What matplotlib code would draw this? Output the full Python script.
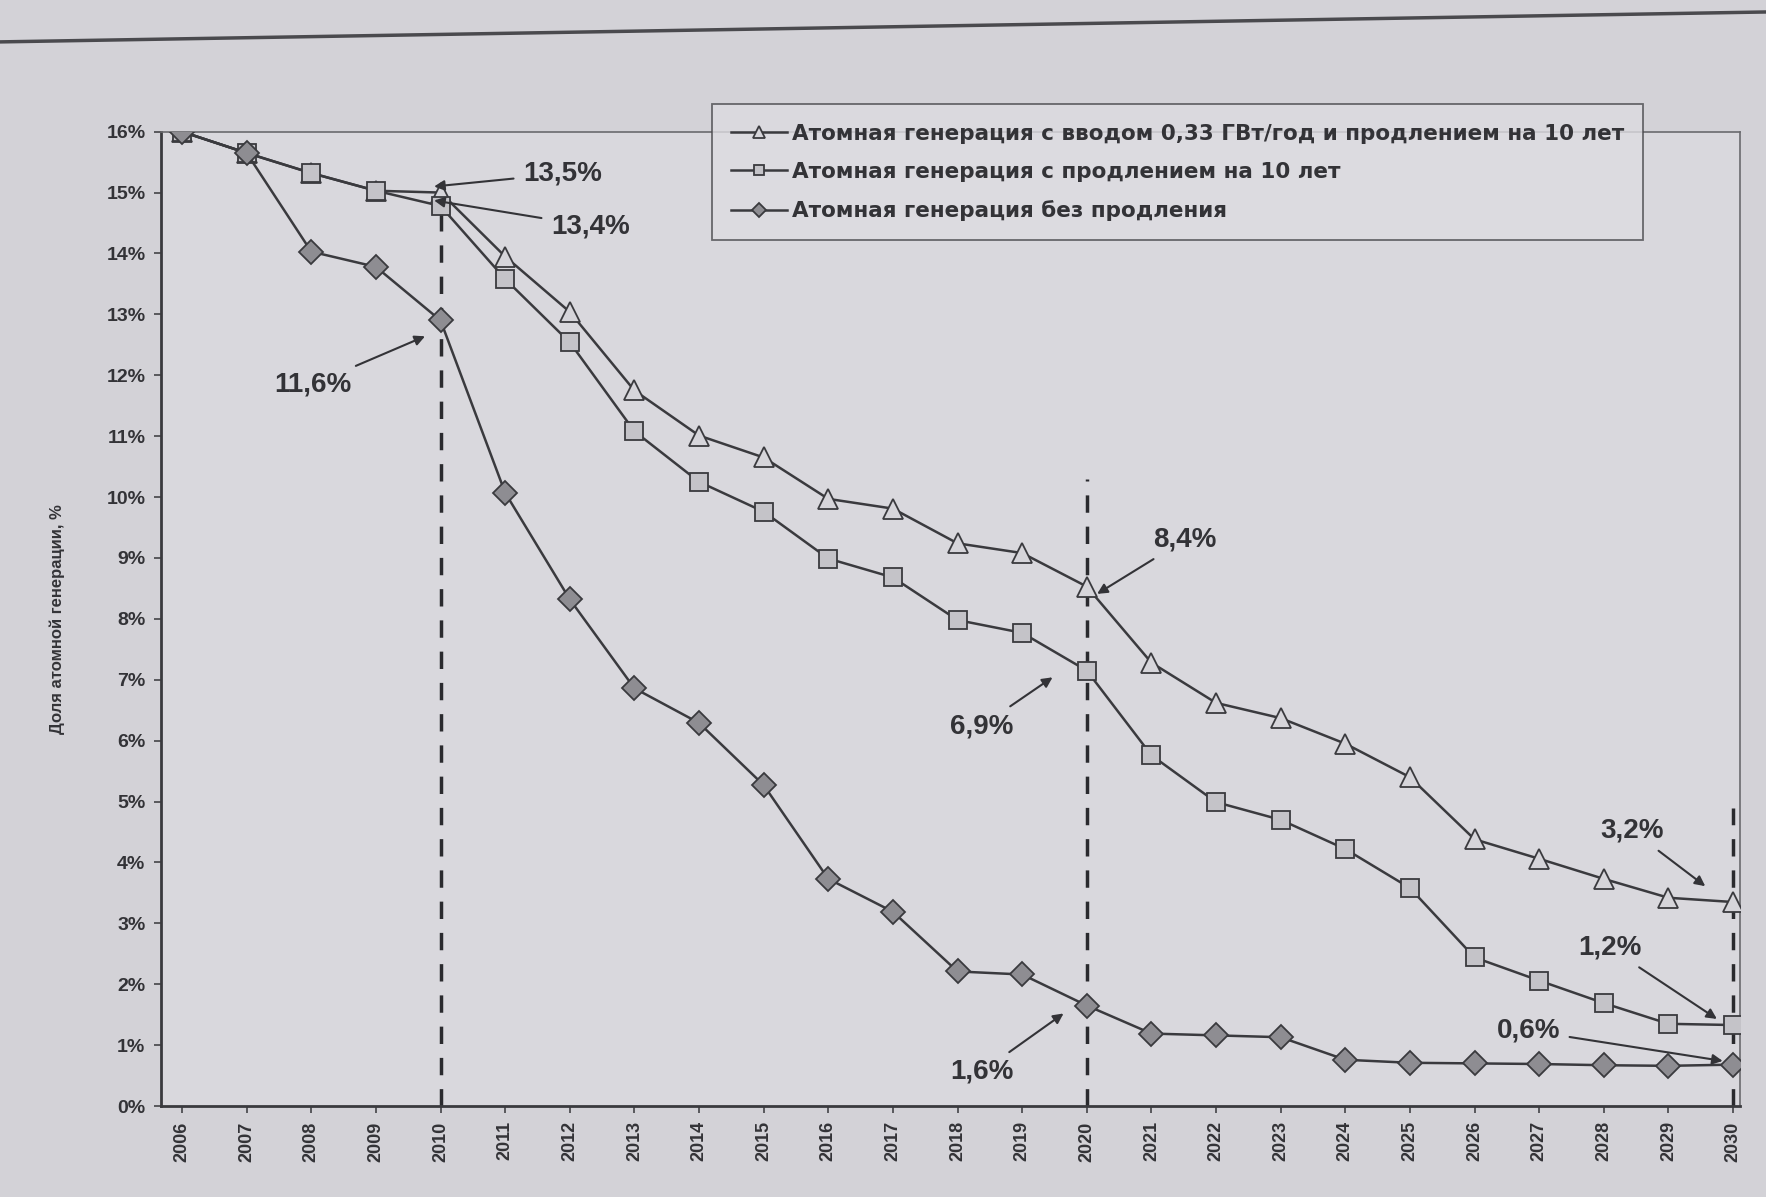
import numpy as np
import matplotlib
matplotlib.use("Agg")
import matplotlib.pyplot as plt
from matplotlib.lines import Line2D

plt.rcParams['font.family'] = ['Liberation Sans', 'DejaVu Sans']

years = list(range(2006, 2031))

# share of nuclear generation, %
with_input = [16.0, 15.65, 15.32, 15.03, 15.0, 13.95, 13.04, 11.75, 11.01, 10.65,
              9.97, 9.81, 9.24, 9.08, 8.53, 7.28, 6.62, 6.37, 5.95, 5.40,
              4.38, 4.06, 3.73, 3.42, 3.35]
with_ext = [16.0, 15.65, 15.32, 15.03, 14.78, 13.58, 12.54, 11.08, 10.25, 9.76,
            8.99, 8.68, 7.98, 7.77, 7.15, 5.76, 4.99, 4.70, 4.22, 3.58,
            2.44, 2.06, 1.69, 1.35, 1.33]
no_ext = [16.0, 15.65, 14.03, 13.78, 12.9, 10.07, 8.32, 6.86, 6.29, 5.27,
          3.73, 3.19, 2.21, 2.16, 1.65, 1.19, 1.16, 1.13, 0.76, 0.71,
          0.70, 0.69, 0.67, 0.66, 0.68]

series_labels = ["Атомная генерация с вводом 0,33 ГВт/год и продлением на 10 лет",
                 "Атомная генерация с продлением на 10 лет",
                 "Атомная генерация без продления"]

marked_years = [2010, 2020, 2030]
dash_tops = [14.8, 10.3, 4.9]

# (text, text x, text y, arrow tip x, arrow tip y)
notes = [("13,5%", 2011.89, 15.31, 2009.9, 15.1),
         ("13,4%", 2012.32, 14.45, 2009.9, 14.87),
         ("11,6%", 2008.02, 11.85, 2009.76, 12.64),
         ("8,4%", 2021.52, 9.30, 2020.16, 8.41),
         ("6,9%", 2018.37, 6.24, 2019.47, 7.04),
         ("1,6%", 2018.37, 0.56, 2019.64, 1.52),
         ("3,2%", 2028.44, 4.52, 2029.57, 3.61),
         ("1,2%", 2028.09, 2.60, 2029.75, 1.43),
         ("0,6%", 2026.83, 1.24, 2029.84, 0.74)]

bg = '#d3d2d7'
fig = plt.figure(figsize=(17.66, 11.97), dpi=100, facecolor=bg)
ax = fig.add_axes([0.091, 0.076, 0.894, 0.814], facecolor='#d9d8dd')

lc = '#3a3a3e'
ax.plot(years, with_input, color=lc, lw=1.8, marker='^', ms=14,
        mfc='#d6d5da', mec=lc, mew=1.3, label=series_labels[0], zorder=3)
ax.plot(years, with_ext, color=lc, lw=1.8, marker='s', ms=13,
        mfc='#c4c3c8', mec=lc, mew=1.3, label=series_labels[1], zorder=4)
ax.plot(years, no_ext, color=lc, lw=1.8, marker='D', ms=12,
        mfc='#8e8d92', mec=lc, mew=1.3, label=series_labels[2], zorder=5)

for yr, top in zip(marked_years, dash_tops):
    ax.plot([yr, yr], [0, top], color='#2a2a2e', lw=2.5, ls=(0, (5, 4)), zorder=2)

for txt, tx, ty, px, py in notes:
    ax.annotate(txt, xy=(px, py), xytext=(tx, ty), fontsize=20, fontweight='bold',
                color='#333337', ha='center', va='center',
                arrowprops=dict(arrowstyle='-|>', color='#333337', lw=1.5,
                                shrinkA=5, shrinkB=0, mutation_scale=15),
                zorder=6)

ax.set_xlim(2005.67, 2030.1)
ax.set_ylim(0, 16)
ax.set_xticks(years)
ax.set_xticklabels([str(y) for y in years], rotation=90, fontsize=13, fontweight='bold',
                   color='#333337')
ax.set_yticks(range(0, 17))
ax.set_yticklabels([f"{v}%" for v in range(0, 17)], fontsize=14, fontweight='bold',
                   color='#333337')
ax.tick_params(axis='both', length=5, width=1.2, color='#444448', pad=6)
ax.set_ylabel("Доля атомной генерации, %", fontsize=12, fontweight='bold',
              color='#333337', labelpad=30)

for side in ['left', 'bottom']:
    ax.spines[side].set_color('#3a3a3e')
    ax.spines[side].set_linewidth(2)
for side in ['top', 'right']:
    ax.spines[side].set_color('#6a6a6e')
    ax.spines[side].set_linewidth(1.2)

leg = ax.legend(loc='upper left', bbox_to_anchor=(0.397, 0.922), bbox_transform=fig.transFigure,
                prop={'family': 'DejaVu Sans', 'size': 15.5, 'weight': 'bold'},
                frameon=True, fancybox=False, handlelength=2.6, markerscale=0.6,
                borderpad=0.9, labelspacing=0.85, handletextpad=0.2,
                edgecolor='#4a4a4e', facecolor='#dddce1')
leg.get_frame().set_linewidth(1.3)
for t in leg.get_texts():
    t.set_color('#333337')

fig.add_artist(Line2D([0.0, 1.0], [0.965, 0.99], transform=fig.transFigure,
                      color='#4a4a4e', lw=2.5))

fig.savefig("out.png", dpi=100, facecolor=bg)
